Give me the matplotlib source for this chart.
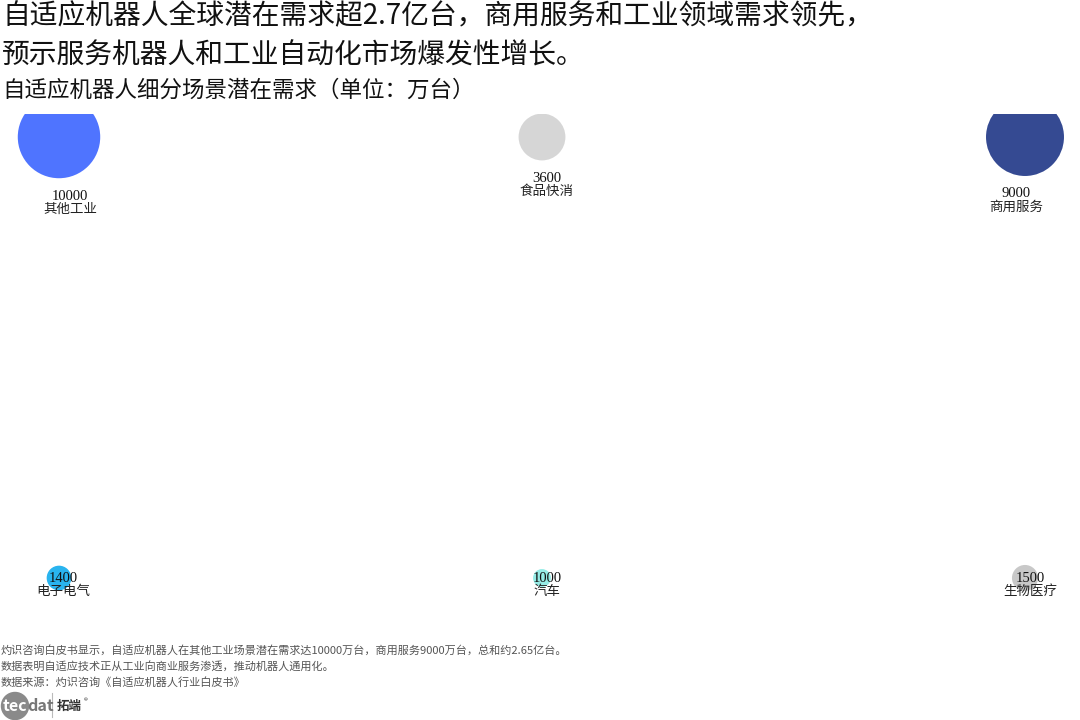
import matplotlib.pyplot as plt
from matplotlib.patches import Circle

# data
names = ['其他工业', '食品快消', '商用服务', '电子电气', '汽车', '生物医疗']
values = [10000, 3600, 9000, 1400, 1000, 1500]
col = [0, 1, 2, 0, 1, 2]
row = [1, 1, 1, 0, 0, 0]
colors = ['#4f74ff', '#d6d6d6', '#354a92', '#29b4ef', '#96ece6', '#c8c8c8']
# small horizontal nudges of the labels (px), as in the reference
nudge = [11, 5, -9, 4, 5, 5]

cjk = ['Noto Sans CJK SC', 'DejaVu Sans']
plt.rcParams['font.family'] = cjk

fig = plt.figure(figsize=(10.8, 7.2), dpi=100)
W, H = 1080.0, 720.0

# axes covers pixel rows 114..620, full width
ax = fig.add_axes([0, 1 - 620 / H, 1, (620 - 114) / H])
ax.set_xlim(-59 / 483.0, (1080 - 59) / 483.0)
ax.set_ylim(-42 / 441.0, 1 + 23 / 441.0)
ax.axis('off')

# bubble radius in pixels from value
rad = [max(0.18 * v - 100, 30) ** 0.5 for v in values]
sizes = [(2 * r * 72 / 100.0) ** 2 for r in rad]
ax.scatter(col, row, s=sizes, c=colors, edgecolors='none', zorder=2)

for i in range(len(names)):
    if row[i] == 1:
        off1 = -(rad[i] + 18) * 0.72
        off2 = -(rad[i] + 31) * 0.72
    else:
        off1 = 0
        off2 = -13 * 0.72
    dx = nudge[i] * 0.72
    ax.annotate(str(values[i]), (col[i], row[i]), xytext=(dx, off1), textcoords='offset points',
                ha='center', va='center', fontsize=10.5, family=['Liberation Serif', 'DejaVu Serif'],
                color='#111111', zorder=3, annotation_clip=False)
    ax.annotate(names[i], (col[i], row[i]), xytext=(dx, off2), textcoords='offset points',
                ha='center', va='center', fontsize=9.7, color='#222222', zorder=3,
                annotation_clip=False)

# titles
fig.text(2 / W, 1 - 16 / H, '自适应机器人全球潜在需求超2.7亿台，商用服务和工业领域需求领先，',
         fontsize=20, va='center', ha='left', color='#111111')
fig.text(2 / W, 1 - 56 / H, '预示服务机器人和工业自动化市场爆发性增长。',
         fontsize=20, va='center', ha='left', color='#111111')
fig.text(2 / W, 1 - 90 / H, '自适应机器人细分场景潜在需求（单位：万台）',
         fontsize=16.2, va='center', ha='left', color='#111111')

# footer notes
notes = ['灼识咨询白皮书显示，自适应机器人在其他工业场景潜在需求达10000万台，商用服务9000万台，总和约2.65亿台。',
         '数据表明自适应技术正从工业向商业服务渗透，推动机器人通用化。',
         '数据来源：灼识咨询《自适应机器人行业白皮书》']
for k, t in enumerate(notes):
    fig.text(1 / W, 1 - (650 + 16 * k) / H, t, fontsize=8.0, va='center', ha='left', color='#555555')

# logo
lax = fig.add_axes([0, 0, 1, 40 / H])
lax.set_xlim(0, W)
lax.set_ylim(0, 40)
lax.axis('off')
lax.add_patch(Circle((15, 14), 13.5, color='#8a8a8a'))
lax.text(3, 14, 'tec', fontsize=11.5, color='white', va='center', ha='left', fontweight='bold')
lax.text(27, 14, 'dat', fontsize=11.5, color='#777777', va='center', ha='left', fontweight='bold')
lax.plot([52, 52], [3, 27], color='#bbbbbb', lw=0.8)
lax.text(57, 14, '拓端', fontsize=9, color='#333333', va='center', ha='left', fontweight='bold')
lax.text(84, 19, '®', fontsize=5.5, color='#333333', va='center', ha='left')

fig.savefig('out.png', dpi=100)
